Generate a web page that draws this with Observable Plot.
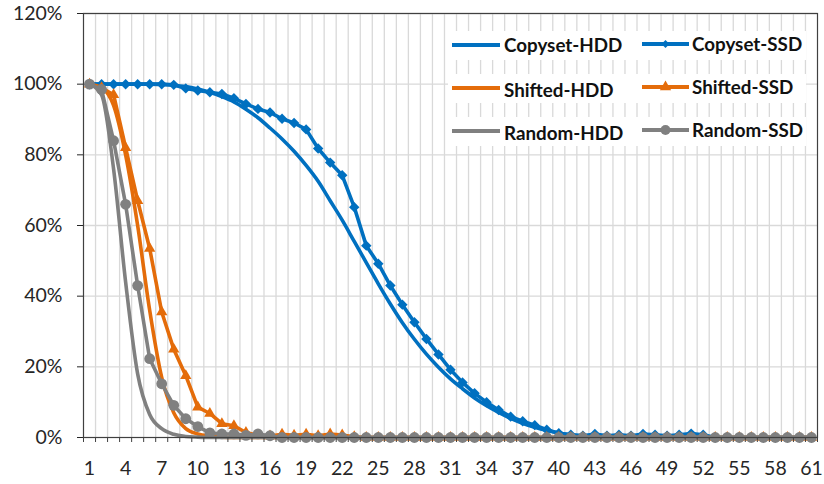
<!DOCTYPE html>
<html>
<head>
<meta charset="utf-8">
<script src="https://cdn.jsdelivr.net/npm/d3@7"></script>
<script src="https://cdn.jsdelivr.net/npm/@observablehq/plot@0.6"></script>
<style>
  body { margin: 0; background: #fff; }
  #chart { width: 824px; height: 484px; }
</style>
</head>
<body>
<div id="chart"></div>
<script>
// Step index on the x axis (1..61)
const steps = d3.range(1, 62);

// Percent of data still available at each step
const copysetHDD = [100, 100, 100, 100, 100, 100, 99.9, 99.7, 99.3, 98.6,
  97.7, 96.5, 95, 92.9, 90.5, 87.6, 84.5, 81, 77, 72.5,
  67, 61.5, 55.5, 49.5, 43.5, 37.8, 32.5, 27.8, 23.6, 19.9,
  16.6, 13.8, 11.2, 9, 7.1, 5.4, 4, 2.9, 2, 1.3,
  0.8, 0.5, 0.3, 0.1, 0, 0, 0, 0, 0, 0,
  0, 0, 0, 0, 0, 0, 0, 0, 0, 0, 0];

const copysetSSD = [100, 100, 100, 100, 100, 100, 100, 99.8, 98.8, 98.2,
  97.7, 97.2, 96, 94.4, 93, 92, 90.2, 89, 87.2, 81.8,
  77.8, 74.2, 65.2, 54.3, 49.2, 43, 37.6, 32.6, 27.9, 23.5,
  19.2, 15.6, 12.5, 10, 7.8, 5.9, 4.6, 3.5, 2.2, 1.2,
  0.8, 0.5, 1, 0.5, 0.8, 0.5, 1, 0.8, 0.5, 0.8,
  1.1, 0.8, 0, 0, 0, 0, 0, 0, 0, 0, 0];

const shiftedHDD = [100, 99, 94, 80, 60, 36, 17, 7, 2.5, 1,
  0.4, 0.1, 0, 0, 0, 0, 0, 0, 0, 0,
  0, 0, 0, 0, 0, 0, 0, 0, 0, 0,
  0, 0, 0, 0, 0, 0, 0, 0, 0, 0,
  0, 0, 0, 0, 0, 0, 0, 0, 0, 0,
  0, 0, 0, 0, 0, 0, 0, 0, 0, 0, 0];

const shiftedSSD = [100, 99, 97, 82, 67, 53.5, 35.5, 25, 17.5, 8.6,
  6.8, 3.9, 3.3, 1.4, 0.6, 0.4, 0.9, 0.6, 0.9, 0.5,
  1, 0.7, 0.2, 0, 0, 0, 0, 0, 0, 0,
  0, 0, 0, 0, 0, 0, 0, 0, 0, 0,
  0, 0, 0, 0, 0, 0, 0, 0, 0, 0,
  0, 0, 0, 0, 0, 0, 0, 0, 0, 0, 0];

const randomHDD = [100, 97, 76, 44, 18, 6.5, 2.5, 0.9, 0.3, 0.1,
  0, 0, 0, 0, 0, 0, 0, 0, 0, 0,
  0, 0, 0, 0, 0, 0, 0, 0, 0, 0,
  0, 0, 0, 0, 0, 0, 0, 0, 0, 0,
  0, 0, 0, 0, 0, 0, 0, 0, 0, 0,
  0, 0, 0, 0, 0, 0, 0, 0, 0, 0, 0];

const randomSSD = [100, 98.5, 84, 66, 43, 22.3, 15.2, 9.1, 5.3, 3.1,
  1.3, 1, 1, 0.6, 1, 0.5, 0, 0, 0, 0,
  0, 0, 0, 0, 0, 0, 0, 0, 0, 0,
  0, 0, 0, 0, 0, 0, 0, 0, 0, 0,
  0, 0, 0, 0, 0, 0, 0, 0, 0, 0,
  0, 0, 0, 0, 0, 0, 0, 0, 0, 0, 0];

// Axis ticks
const xTicks = d3.range(1, 62, 3);
const yTicks = [0, 20, 40, 60, 80, 100, 120];

const blue = "#0070C0", orange = "#E46C0A", gray = "#808080";

const series = [
  {name: "Copyset-HDD", values: copysetHDD, color: blue,   symbol: null},
  {name: "Copyset-SSD", values: copysetSSD, color: blue,   symbol: "diamond2", r: 4.7, legendR: 3.6},
  {name: "Shifted-HDD", values: shiftedHDD, color: orange, symbol: null},
  {name: "Shifted-SSD", values: shiftedSSD, color: orange, symbol: "triangle", r: 4.2, legendR: 4.2},
  {name: "Random-HDD",  values: randomHDD,  color: gray,   symbol: null},
  {name: "Random-SSD",  values: randomSSD,  color: gray,   symbol: "circle", r: 5.4, legendR: 5}
];

const rows = series.flatMap(s => s.values.map((v, i) => ({series: s.name, n: steps[i], v})));

const marks = [
  Plot.ruleX(d3.range(1.5, 61, 1), {stroke: "#d9d9d9", strokeWidth: 1.3}),
  Plot.ruleY(yTicks.filter(t => t > 0), {stroke: "#d9d9d9", strokeWidth: 1.3})
];

for (const s of series) {
  const data = rows.filter(d => d.series === s.name);
  marks.push(Plot.line(data, {
    x: "n", y: "v", stroke: s.color, strokeWidth: 3.6,
    curve: s.symbol ? "linear" : "monotone-x", strokeLinejoin: "round"
  }));
  if (s.symbol) {
    marks.push(Plot.dot(data, {x: "n", y: "v", symbol: s.symbol, r: s.r, fill: s.color, stroke: "none"}));
  }
}

marks.push(
  Plot.frame({stroke: "#404040", strokeWidth: 1.2}),
  Plot.axisY({ticks: yTicks, tickSize: 6, tickPadding: 15, tickFormat: d => d + "%",
    fontSize: 19.5, color: "#262626", label: null}),
  Plot.axisX({ticks: d3.range(0.5, 62, 1), tickSize: 5, tickFormat: () => "",
    color: "#404040", label: null}),
  Plot.axisX({ticks: xTicks, tickSize: 0, tickPadding: 24, tickFormat: d => String(d),
    fontSize: 19.5, color: "#262626", label: null})
);

const chart = Plot.plot({
  width: 824,
  height: 484,
  marginLeft: 83,
  marginRight: 7,
  marginTop: 13,
  marginBottom: 47,
  x: {domain: [0.5, 61.5], axis: null},
  y: {domain: [0, 120], axis: null},
  style: {fontFamily: "Lato, 'Open Sans', sans-serif", fontSize: "19px", background: "white", color: "#262626"},
  marks
});

// Legend: HDD series in the left column, SSD series in the right column
const svg = d3.select(chart);
const legend = svg.append("g")
  .attr("font-family", "Lato, 'Open Sans', sans-serif")
  .attr("font-weight", "bold")
  .attr("font-size", 18.8)
  .attr("text-anchor", "start")
  .attr("fill", "#111");

const rowY = [45, 88, 131];
rowY.forEach(y => {
  legend.append("rect").attr("x", 448).attr("y", y - 14).attr("width", 358).attr("height", 29).attr("fill", "white");
});

series.forEach((s, i) => {
  const row = Math.floor(i / 2), col = i % 2;
  const y = rowY[row] + (col === 0 ? 0 : -1);
  const x0 = col === 0 ? 452 : 642, x1 = col === 0 ? 500 : 689;
  const tx = col === 0 ? 504 : 692;
  legend.append("line").attr("x1", x0).attr("x2", x1).attr("y1", y).attr("y2", y)
    .attr("stroke", s.color).attr("stroke-width", 4);
  if (s.symbol) {
    const sym = {diamond2: d3.symbolDiamond2, triangle: d3.symbolTriangle, circle: d3.symbolCircle}[s.symbol];
    legend.append("path")
      .attr("d", d3.symbol(sym, Math.PI * s.legendR * s.legendR)())
      .attr("transform", `translate(${(x0 + x1) / 2},${y})`)
      .attr("fill", s.color);
  }
  legend.append("text").attr("x", tx).attr("y", y + (col === 0 && row > 0 ? 2 : 0))
    .attr("dy", "0.35em").text(s.name);
});

document.getElementById("chart").appendChild(chart);
</script>
</body>
</html>
